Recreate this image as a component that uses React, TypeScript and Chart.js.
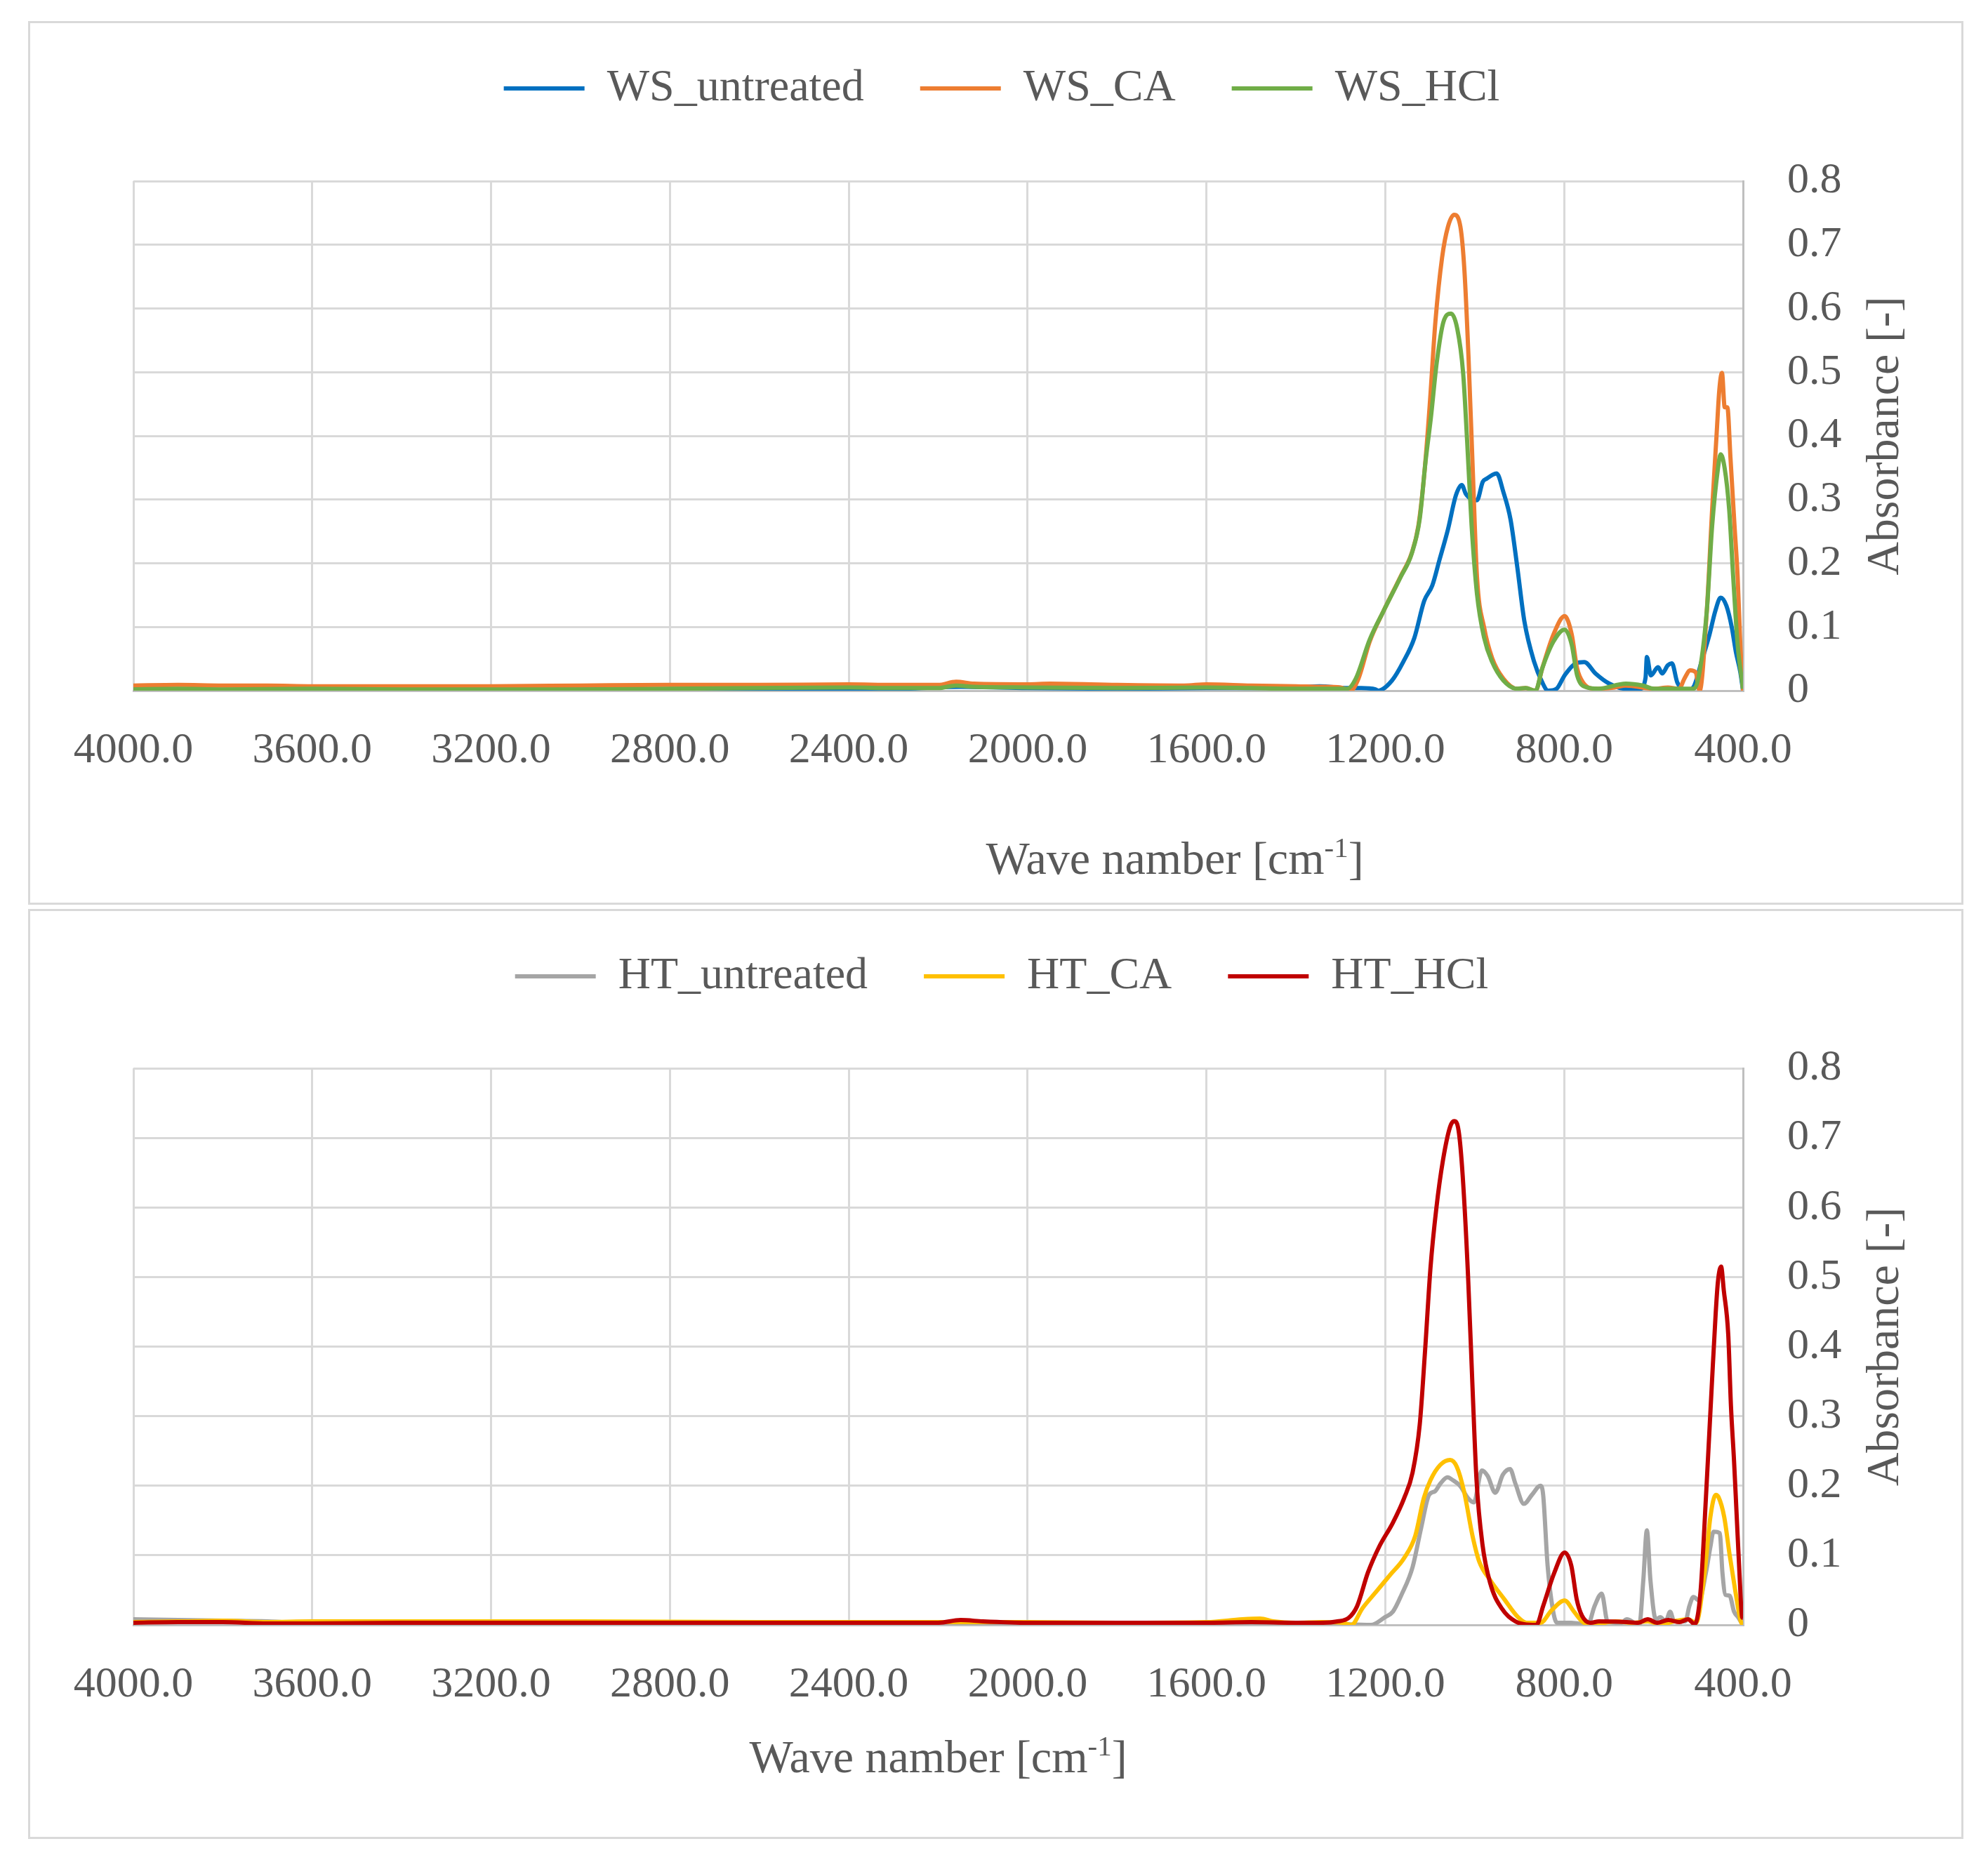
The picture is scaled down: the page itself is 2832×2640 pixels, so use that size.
import React, { useEffect, useRef } from 'react';
import { Chart, registerables } from 'chart.js';

Chart.register(...registerables);

const FONT = "'Liberation Serif', 'Times New Roman', serif";
const TEXT = '#595959';
const GRID = '#D9D9D9';
const AXIS = '#BFBFBF';

// ---- tick values ----
const X_TICKS = [400, 800, 1200, 1600, 2000, 2400, 2800, 3200, 3600, 4000];
const Y_TICKS = [0, 0.1, 0.2, 0.3, 0.4, 0.5, 0.6, 0.7, 0.8];

// ---- top panel: WS ----
const wsUntreatedWn = [4000, 3900, 3700, 3500, 3200, 2900, 2600, 2400, 2300, 2150, 2000, 1800, 1600, 1400, 1347, 1285, 1254, 1222, 1216, 1185, 1160, 1135, 1113, 1095, 1079, 1060, 1042, 1029, 1020, 1005, 995, 982, 973, 960, 951, 936, 920, 905, 889, 867, 849, 836, 817, 799, 774, 755, 730, 699, 662, 630, 618, 615, 606, 590, 581, 568, 559, 547, 525, 509, 493, 475, 462, 450, 437, 425, 416, 406, 400];
const wsUntreatedAbs = [0.002, 0.002, 0.001, 0.002, 0.002, 0.002, 0.003, 0.003, 0.003, 0.006, 0.004, 0.003, 0.004, 0.005, 0.007, 0.004, 0.004, 0.002, 0, 0.016, 0.045, 0.083, 0.141, 0.165, 0.205, 0.253, 0.307, 0.323, 0.309, 0.3, 0.299, 0.328, 0.333, 0.339, 0.341, 0.312, 0.269, 0.195, 0.109, 0.045, 0.013, 0, 0.003, 0.024, 0.043, 0.045, 0.027, 0.011, 0.003, 0.003, 0.02, 0.053, 0.024, 0.037, 0.027, 0.04, 0.043, 0.013, 0, 0.008, 0.045, 0.088, 0.125, 0.146, 0.133, 0.099, 0.061, 0.029, 0];

const wsCaWn = [4000, 3900, 3800, 3700, 3600, 3400, 3200, 3000, 2800, 2600, 2400, 2300, 2200, 2160, 2120, 2000, 1950, 1800, 1650, 1600, 1500, 1400, 1347, 1300, 1278, 1260, 1235, 1204, 1166, 1141, 1126, 1113, 1101, 1088, 1073, 1060, 1046, 1032, 1023, 1014, 1004, 995, 979, 961, 936, 905, 886, 864, 849, 824, 799, 783, 771, 758, 730, 687, 662, 599, 568, 543, 531, 518, 506, 497, 481, 469, 459, 453, 447, 441, 435, 428, 419, 412, 406, 400];
const wsCaAbs = [0.008, 0.009, 0.008, 0.008, 0.007, 0.007, 0.007, 0.008, 0.009, 0.009, 0.01, 0.009, 0.009, 0.014, 0.011, 0.01, 0.011, 0.009, 0.008, 0.01, 0.008, 0.007, 0.006, 0.005, 0, 0.019, 0.077, 0.125, 0.179, 0.216, 0.259, 0.339, 0.445, 0.579, 0.68, 0.728, 0.747, 0.728, 0.659, 0.525, 0.339, 0.179, 0.099, 0.051, 0.019, 0.003, 0.004, 0, 0.035, 0.088, 0.117, 0.088, 0.035, 0.013, 0.003, 0.005, 0.008, 0.003, 0.005, 0.003, 0.019, 0.032, 0.029, 0, 0.125, 0.285, 0.403, 0.472, 0.499, 0.445, 0.445, 0.365, 0.259, 0.179, 0.072, 0];

const wsHclWn = [4000, 3900, 3800, 3600, 3400, 3200, 3000, 2800, 2600, 2400, 2300, 2200, 2160, 2120, 2000, 1800, 1600, 1500, 1400, 1347, 1285, 1266, 1235, 1204, 1166, 1141, 1123, 1110, 1098, 1085, 1070, 1053, 1039, 1026, 1017, 1007, 995, 979, 961, 936, 905, 886, 864, 849, 824, 799, 783, 771, 749, 724, 662, 624, 599, 537, 512, 500, 481, 469, 456, 450, 441, 431, 422, 412, 400];
const wsHclAbs = [0.002, 0.003, 0.002, 0.003, 0.002, 0.002, 0.002, 0.003, 0.004, 0.005, 0.004, 0.004, 0.008, 0.006, 0.005, 0.004, 0.005, 0.004, 0.003, 0.003, 0.003, 0.019, 0.08, 0.125, 0.178, 0.215, 0.27, 0.36, 0.429, 0.515, 0.579, 0.592, 0.568, 0.499, 0.392, 0.259, 0.152, 0.083, 0.045, 0.016, 0.003, 0.004, 0, 0.035, 0.077, 0.096, 0.072, 0.024, 0.005, 0.003, 0.011, 0.008, 0.003, 0.003, 0.003, 0.019, 0.125, 0.259, 0.349, 0.371, 0.349, 0.285, 0.179, 0.072, 0.003];

// ---- bottom panel: HT ----
const htUntreatedWn = [4000, 3900, 3800, 3700, 3600, 3400, 3000, 2600, 2400, 2200, 2000, 1600, 1400, 1344, 1232, 1201, 1183, 1164, 1139, 1120, 1102, 1089, 1077, 1061, 1049, 1033, 1015, 1002, 984, 971, 954, 937, 921, 909, 890, 872, 853, 847, 837, 825, 816, 784, 747, 732, 716, 703, 672, 660, 632, 623, 615, 607, 595, 585, 573, 563, 554, 529, 520, 511, 498, 483, 473, 466, 452, 446, 439, 430, 420, 411, 405, 400];
const htUntreatedAbs = [0.008, 0.007, 0.006, 0.005, 0.002, 0.001, 0.001, 0.001, 0.002, 0.002, 0.002, 0.001, 0.001, 0.002, 0, 0.011, 0.019, 0.043, 0.083, 0.139, 0.187, 0.192, 0.203, 0.212, 0.208, 0.2, 0.182, 0.176, 0.222, 0.214, 0.19, 0.216, 0.224, 0.203, 0.174, 0.187, 0.2, 0.187, 0.085, 0.021, 0.003, 0.003, 0, 0.027, 0.045, 0.005, 0.003, 0.008, 0, 0.064, 0.136, 0.064, 0.008, 0.011, 0.005, 0.019, 0.005, 0.005, 0.027, 0.04, 0.035, 0.075, 0.112, 0.134, 0.132, 0.075, 0.043, 0.042, 0.019, 0.011, 0.005, 0];

const htCaWn = [4000, 3900, 3800, 3700, 3600, 3400, 3000, 2600, 2400, 2200, 2000, 1800, 1600, 1520, 1480, 1450, 1400, 1344, 1295, 1276, 1251, 1220, 1189, 1158, 1133, 1114, 1099, 1077, 1055, 1040, 1024, 1005, 990, 965, 934, 903, 884, 853, 828, 799, 778, 760, 741, 685, 648, 613, 585, 548, 523, 505, 486, 473, 461, 455, 442, 430, 417, 405, 400];
const htCaAbs = [0.004, 0.005, 0.006, 0.004, 0.005, 0.005, 0.005, 0.004, 0.004, 0.004, 0.004, 0.003, 0.004, 0.008, 0.009, 0.005, 0.003, 0.004, 0.003, 0, 0.024, 0.048, 0.072, 0.096, 0.128, 0.182, 0.208, 0.23, 0.237, 0.227, 0.192, 0.128, 0.091, 0.064, 0.037, 0.011, 0.003, 0.003, 0.021, 0.035, 0.019, 0.005, 0, 0.005, 0.003, 0.005, 0.001, 0.006, 0.008, 0.003, 0.075, 0.155, 0.187, 0.184, 0.155, 0.101, 0.048, 0.005, 0];

const htHclWn = [4000, 3900, 3800, 3700, 3600, 3400, 3000, 2600, 2400, 2200, 2150, 2100, 2000, 1800, 1600, 1500, 1400, 1344, 1307, 1282, 1263, 1239, 1214, 1183, 1158, 1139, 1123, 1111, 1099, 1086, 1071, 1055, 1046, 1036, 1027, 1015, 1005, 996, 983, 965, 940, 909, 890, 862, 847, 822, 799, 784, 772, 760, 741, 722, 660, 635, 613, 592, 567, 542, 523, 508, 495, 483, 470, 461, 456, 449, 443, 433, 427, 420, 414, 408, 402, 400];
const htHclAbs = [0.003, 0.004, 0.004, 0.002, 0.002, 0.003, 0.003, 0.003, 0.003, 0.003, 0.007, 0.005, 0.003, 0.003, 0.003, 0.004, 0.003, 0.003, 0.005, 0.01, 0.027, 0.075, 0.112, 0.147, 0.182, 0.219, 0.288, 0.395, 0.513, 0.598, 0.668, 0.716, 0.724, 0.71, 0.646, 0.502, 0.342, 0.208, 0.117, 0.059, 0.024, 0.005, 0.001, 0, 0.027, 0.075, 0.104, 0.085, 0.037, 0.013, 0.003, 0.005, 0.004, 0.003, 0.008, 0.003, 0.007, 0.004, 0.008, 0.001, 0.048, 0.182, 0.342, 0.449, 0.494, 0.515, 0.481, 0.417, 0.315, 0.235, 0.155, 0.075, 0.011, 0.01];

const TOP_LABELS = ['WS_untreated', 'WS_CA', 'WS_HCl'];
const TOP_COLORS = ['#0070C0', '#ED7D31', '#70AD47'];
const BOTTOM_LABELS = ['HT_untreated', 'HT_CA', 'HT_HCl'];
const BOTTOM_COLORS = ['#A5A5A5', '#FFC000', '#C00000'];

const X_TITLE_MAIN = 'Wave namber [cm';
const X_TITLE_SUP = '-1';
const X_TITLE_TAIL = ']';
const Y_TITLE = 'Absorbance [-]';

type Series = { label: string; color: string; wn: number[]; abs: number[] };

const topSeries: Series[] = [
  { label: TOP_LABELS[0], color: TOP_COLORS[0], wn: wsUntreatedWn, abs: wsUntreatedAbs },
  { label: TOP_LABELS[1], color: TOP_COLORS[1], wn: wsCaWn, abs: wsCaAbs },
  { label: TOP_LABELS[2], color: TOP_COLORS[2], wn: wsHclWn, abs: wsHclAbs },
];
const bottomSeries: Series[] = [
  { label: BOTTOM_LABELS[0], color: BOTTOM_COLORS[0], wn: htUntreatedWn, abs: htUntreatedAbs },
  { label: BOTTOM_LABELS[1], color: BOTTOM_COLORS[1], wn: htCaWn, abs: htCaAbs },
  { label: BOTTOM_LABELS[2], color: BOTTOM_COLORS[2], wn: htHclWn, abs: htHclAbs },
];

const axisTitlePlugin = {
  id: 'axisTitles',
  afterDraw(chart: any, _args: any, opts: any) {
    const { ctx, chartArea } = chart;
    const size = opts.size;
    // y title (reads bottom to top)
    ctx.save();
    ctx.fillStyle = TEXT;
    ctx.font = `${size}px ${FONT}`;
    ctx.translate(chartArea.right + opts.yGap, (chartArea.top + chartArea.bottom) / 2);
    ctx.rotate(-Math.PI / 2);
    ctx.textAlign = 'center';
    ctx.textBaseline = 'middle';
    ctx.fillText(Y_TITLE, 0, 0);
    ctx.restore();
    // x title with superscript
    ctx.save();
    ctx.fillStyle = TEXT;
    ctx.textAlign = 'left';
    ctx.textBaseline = 'alphabetic';
    const supSize = Math.round(size * 0.62);
    ctx.font = `${size}px ${FONT}`;
    const wMain = ctx.measureText(X_TITLE_MAIN).width;
    const wTail = ctx.measureText(X_TITLE_TAIL).width;
    ctx.font = `${supSize}px ${FONT}`;
    const wSup = ctx.measureText(X_TITLE_SUP).width;
    const total = wMain + wSup + wTail;
    let x = (chartArea.left + chartArea.right) / 2 + opts.xShift - total / 2;
    const y = chartArea.bottom + opts.xBaseline;
    ctx.font = `${size}px ${FONT}`;
    ctx.fillText(X_TITLE_MAIN, x, y);
    x += wMain;
    ctx.font = `${supSize}px ${FONT}`;
    ctx.fillText(X_TITLE_SUP, x, y - size * 0.36);
    x += wSup;
    ctx.font = `${size}px ${FONT}`;
    ctx.fillText(X_TITLE_TAIL, x, y);
    ctx.restore();
  },
};

type PanelLayout = {
  padTop: number;
  spacer: number;
  padBottom: number;
  xShift: number;
  xBaseline: number;
};

function buildChart(canvas: HTMLCanvasElement, series: Series[], p: PanelLayout) {
  const datasets = series.map((s, i) => ({
    label: s.label,
    data: s.wn.map((w, j) => ({ x: w, y: s.abs[j] })),
    borderColor: s.color,
    backgroundColor: s.color,
    borderWidth: 6,
    pointRadius: 0,
    pointHoverRadius: 0,
    fill: false,
    cubicInterpolationMode: 'monotone' as const,
    order: series.length - i,
  }));
  return new Chart(canvas, {
    type: 'line',
    data: { datasets },
    options: {
      animation: false,
      responsive: false,
      devicePixelRatio: 1,
      events: [],
      layout: { padding: { left: 150, right: 132, top: p.padTop, bottom: p.padBottom } },
      plugins: {
        legend: {
          display: true,
          position: 'top',
          weight: 3000,
          labels: {
            color: TEXT,
            font: { family: FONT, size: 64 },
            boxWidth: 115,
            boxHeight: 6,
            padding: 80,
            sort: (a: any, b: any) => a.datasetIndex - b.datasetIndex,
            generateLabels: (chart: any) =>
              (Chart.defaults.plugins.legend.labels.generateLabels as any)(chart).map((l: any) => ({
                ...l,
                lineWidth: 0,
                fontColor: TEXT,
              })),
          },
        } as any,
        title: {
          display: true,
          text: '',
          padding: { top: p.spacer - 10, bottom: 0 },
          font: { size: 10, lineHeight: 1 },
        },
        tooltip: { enabled: false },
        axisTitles: { size: 66, yGap: 204, xShift: p.xShift, xBaseline: p.xBaseline },
      } as any,
      scales: {
        x: {
          type: 'linear',
          reverse: true,
          min: 400,
          max: 4000,
          afterBuildTicks: (sc: any) => {
            sc.ticks = X_TICKS.map((v) => ({ value: v }));
          },
          afterFit: (sc: any) => {
            sc.height = 150;
          },
          ticks: {
            autoSkip: false,
            maxRotation: 0,
            minRotation: 0,
            padding: 49,
            color: TEXT,
            font: { family: FONT, size: 62 },
            callback: (v: any) => Number(v).toFixed(1),
          },
          grid: { color: GRID, lineWidth: 3, drawTicks: false },
          border: { display: true, color: AXIS, width: 3 },
        },
        y: {
          type: 'linear',
          position: 'right',
          min: 0,
          max: 0.8,
          afterBuildTicks: (sc: any) => {
            sc.ticks = Y_TICKS.map((v) => ({ value: v }));
          },
          afterFit: (sc: any) => {
            sc.width = 181;
          },
          ticks: {
            padding: 63,
            color: TEXT,
            font: { family: FONT, size: 62 },
            callback: (v: any) => (Number(v) === 0 ? '0' : Number(v).toFixed(1)),
          },
          grid: { color: GRID, lineWidth: 3, drawTicks: false },
          border: { display: true, color: AXIS, width: 3 },
        },
      },
    } as any,
    plugins: [axisTitlePlugin as any],
  });
}

function ChartPanel({ series, top, height, layout }: { series: Series[]; top: number; height: number; layout: PanelLayout }) {
  const ref = useRef<HTMLCanvasElement | null>(null);
  useEffect(() => {
    if (!ref.current) return;
    const chart = buildChart(ref.current, series, layout);
    return () => chart.destroy();
  }, []);
  return (
    <canvas
      ref={ref}
      width={2756}
      height={height}
      style={{ position: 'absolute', left: 40, top, width: 2756, height }}
    />
  );
}

export default function App() {
  return (
    <div style={{ position: 'absolute', left: 0, top: 0, width: 2832, height: 2640, background: '#ffffff', fontFamily: FONT }}>
      <div style={{ position: 'absolute', left: 40, top: 30, width: 2757, height: 1259, border: `3px solid ${GRID}`, boxSizing: 'border-box' }} />
      <div style={{ position: 'absolute', left: 40, top: 1295, width: 2757, height: 1325, border: `3px solid ${GRID}`, boxSizing: 'border-box' }} />
      <ChartPanel
        series={topSeries}
        top={0}
        height={1286}
        layout={{ padTop: 14, spacer: 90, padBottom: 152, xShift: 337, xBaseline: 261 }}
      />
      <ChartPanel
        series={bottomSeries}
        top={1270}
        height={1348}
        layout={{ padTop: 9, spacer: 89, padBottom: 153, xShift: 0, xBaseline: 210 }}
      />
    </div>
  );
}
